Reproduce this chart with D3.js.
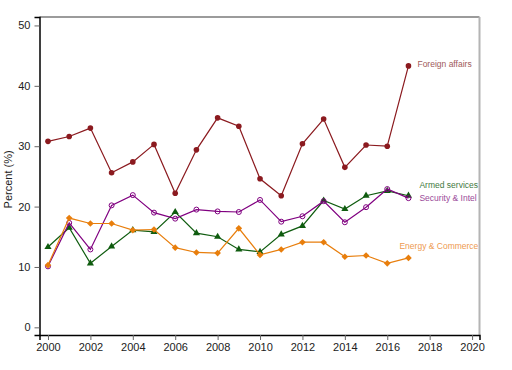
<!DOCTYPE html>
<html>
<head>
<meta charset="utf-8">
<script src="https://cdn.jsdelivr.net/npm/d3@7"></script>
<style>
  body { margin: 0; background: #fff; }
  svg { font-family: "Liberation Sans", Arial, sans-serif; }
</style>
</head>
<body>
<svg id="chart" width="512" height="370"></svg>
<script>
// years on the x axis
var years = [2000, 2001, 2002, 2003, 2004, 2005, 2006, 2007, 2008, 2009,
             2010, 2011, 2012, 2013, 2014, 2015, 2016, 2017];

// percent values
var foreignAffairs = [30.8, 31.6, 33.0, 25.6, 27.4, 30.3, 22.2, 29.4, 34.7, 33.3,
                      24.6, 21.8, 30.4, 34.5, 26.5, 30.2, 30.0, 43.3];
var armedServices  = [13.3, 16.5, 10.6, 13.4, 16.1, 15.8, 19.1, 15.6, 15.0, 12.9,
                      12.5, 15.4, 16.8, 21.0, 19.6, 21.8, 22.6, 21.8];
var securityIntel  = [10.1, 17.3, 12.9, 20.2, 21.9, 19.0, 18.0, 19.5, 19.2, 19.1,
                      21.1, 17.5, 18.4, 20.9, 17.4, 19.9, 22.9, 21.4];
var energyCommerce = [10.3, 18.1, 17.2, 17.2, 16.1, 16.2, 13.2, 12.4, 12.3, 16.4,
                      12.0, 12.9, 14.1, 14.1, 11.7, 11.9, 10.6, 11.5];

var xTicks = [2000, 2002, 2004, 2006, 2008, 2010, 2012, 2014, 2016, 2018, 2020];
var yTicks = [0, 10, 20, 30, 40, 50];

var series = [
  { name: 'Foreign affairs',   values: foreignAffairs, color: '#8b1a1f', label: '#a05a5a', marker: 'dot',      lx: 9,  ly: -2 },
  { name: 'Armed services',    values: armedServices,  color: '#0f5c0f', label: '#3f7a3f', marker: 'triangle', lx: 11, ly: -11 },
  { name: 'Security & Intel',  values: securityIntel,  color: '#800080', label: '#9a4a9a', marker: 'circle',   lx: 11, ly: 0 },
  { name: 'Energy & Commerce', values: energyCommerce, color: '#e87e0c', label: '#ee9a50', marker: 'diamond',  lx: -9, ly: -12 }
];

var svg = d3.select('#chart');
var padL = 39.5, padR = 479.5, padT = 17, padB = 335;

var x = d3.scaleLinear().domain([1999.6, 2020.35]).range([padL, padR]);
var y = d3.scaleLinear().domain([-1.27, 51.4]).range([padB, padT]);

// frame: gray top/right, black left/bottom
svg.append('line').attr('x1', padL).attr('x2', padR).attr('y1', padT).attr('y2', padT)
  .attr('stroke', '#7a7a7a').attr('stroke-width', 1.5);
svg.append('line').attr('x1', padR).attr('x2', padR).attr('y1', padT).attr('y2', padB)
  .attr('stroke', '#b4b4b4').attr('stroke-width', 2);

var yAxis = svg.append('g')
  .attr('transform', 'translate(' + padL + ',0)')
  .call(d3.axisLeft(y).tickValues(yTicks).tickSize(5).tickPadding(4));
yAxis.select('.domain').attr('stroke', '#000').attr('stroke-width', 1.5);
yAxis.selectAll('.tick line').attr('stroke', '#666');
yAxis.selectAll('text').attr('font-size', 11).attr('fill', '#222');

var xAxis = svg.append('g')
  .attr('transform', 'translate(0,' + padB + ')')
  .call(d3.axisBottom(x).tickValues(xTicks).tickFormat(d3.format('d')).tickSize(5).tickPadding(3));
xAxis.select('.domain').attr('stroke', '#000').attr('stroke-width', 1.5);
xAxis.selectAll('.tick line').attr('stroke', '#666');
xAxis.selectAll('text').attr('font-size', 11).attr('fill', '#222');

svg.append('text')
  .attr('transform', 'translate(12,' + y(24.5) + ') rotate(-90)')
  .attr('text-anchor', 'middle')
  .attr('font-size', 11)
  .attr('fill', '#222')
  .text('Percent (%)');

var line = d3.line()
  .x(function(d, i){ return x(years[i]); })
  .y(function(d){ return y(d); });

series.forEach(function(s){
  var g = svg.append('g');
  g.append('path')
    .datum(s.values)
    .attr('d', line)
    .attr('fill', 'none')
    .attr('stroke', s.color)
    .attr('stroke-width', 1.2);

  var pts = g.selectAll('.pt').data(s.values).enter();
  if( s.marker == 'dot' ){
    pts.append('circle')
      .attr('cx', function(d, i){ return x(years[i]); })
      .attr('cy', function(d){ return y(d); })
      .attr('r', 2.8).attr('fill', s.color);
  }
  else if( s.marker == 'circle' ){
    pts.append('circle')
      .attr('cx', function(d, i){ return x(years[i]); })
      .attr('cy', function(d){ return y(d); })
      .attr('r', 2.5).attr('fill', 'none')
      .attr('stroke', s.color).attr('stroke-width', 1);
  }
  else if( s.marker == 'triangle' ){
    pts.append('path')
      .attr('d', d3.symbol().type(d3.symbolTriangle).size(22))
      .attr('transform', function(d, i){ return 'translate(' + x(years[i]) + ',' + y(d) + ')'; })
      .attr('fill', s.color);
  }
  else {
    // diamond = square turned 45 degrees
    pts.append('path')
      .attr('d', d3.symbol().type(d3.symbolSquare).size(22))
      .attr('transform', function(d, i){ return 'translate(' + x(years[i]) + ',' + y(d) + ') rotate(45)'; })
      .attr('fill', s.color);
  }

  var last = s.values.length - 1;
  svg.append('text')
    .attr('x', x(years[last]) + s.lx)
    .attr('y', y(s.values[last]) + s.ly)
    .attr('dy', '0.35em')
    .attr('font-size', 8.5)
    .attr('fill', s.label)
    .text(s.name);
});
</script>
</body>
</html>
